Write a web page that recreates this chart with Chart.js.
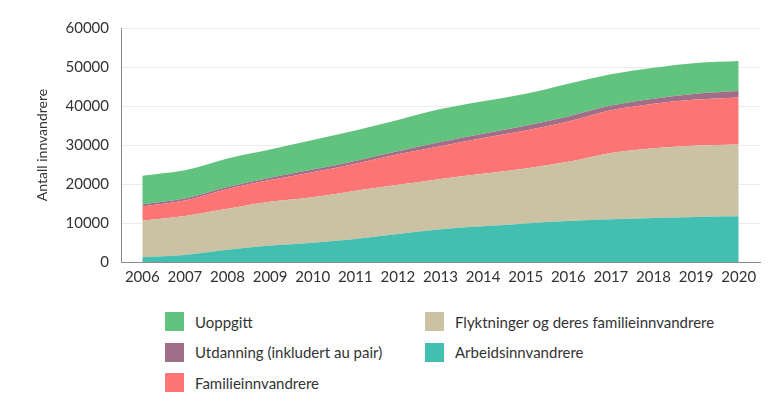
<!DOCTYPE html>
<html>
<head>
<meta charset="utf-8">
<script src="https://cdn.jsdelivr.net/npm/chart.js@4/dist/chart.umd.min.js"></script>
<style>
  body { margin: 0; background: #fff; font-family: Lato, sans-serif; }
  #wrap { position: relative; width: 779px; height: 403px; }
  #chart-box { position: absolute; left: 0; top: 0; width: 779px; height: 295px; }
  .leg { position: absolute; display: flex; align-items: center; height: 19px; font-size: 15px; color: #333; white-space: nowrap; }
  .leg span.box { display: inline-block; width: 19px; height: 19px; margin-right: 11px; }
</style>
</head>
<body>
<div id="wrap">
  <div id="chart-box"><canvas id="immigration-chart"></canvas></div>
  <div id="legend"></div>
</div>
<script>
const years = ["2006", "2007", "2008", "2009", "2010", "2011", "2012", "2013",
  "2014", "2015", "2016", "2017", "2018", "2019", "2020"];

// stacked from the bottom up
const arbeid = [1200, 1800, 3150, 4200, 4950, 5900, 7150, 8400, 9150, 9900, 10500, 10950, 11300, 11550, 11700];
const flyktninger = [9400, 10000, 10500, 11250, 11650, 12400, 12650, 12900, 13500, 14100, 15200, 17000, 17850, 18300, 18450];
const familie = [3650, 3950, 5050, 5550, 6400, 6900, 7800, 8400, 9150, 9750, 10350, 10950, 11450, 11800, 12050];
const utdanning = [520, 510, 510, 590, 690, 700, 770, 1050, 1100, 1200, 1280, 1200, 1280, 1500, 1630];
const uoppgitt = [7350, 7250, 7350, 7250, 7600, 7850, 8050, 8450, 8300, 8200, 8400, 8050, 7950, 7900, 7700];

const yTicks = [0, 10000, 20000, 30000, 40000, 50000, 60000];

const series = [
  { label: "Arbeidsinnvandrere", data: arbeid, color: "#42bfb1" },
  { label: "Flyktninger og deres familieinnvandrere", data: flyktninger, color: "#cbc1a3" },
  { label: "Familieinnvandrere", data: familie, color: "#fc7474" },
  { label: "Utdanning (inkludert au pair)", data: utdanning, color: "#a06e88" },
  { label: "Uoppgitt", data: uoppgitt, color: "#62c37f" }
];

Chart.defaults.font.family = "Lato, sans-serif";
Chart.defaults.color = "#333";

const chart = new Chart("immigration-chart", {
  type: "line",
  data: {
    labels: years,
    datasets: series.map((s, i) => ({
      label: s.label,
      data: s.data,
      backgroundColor: s.color,
      borderColor: s.color,
      borderWidth: 0,
      pointRadius: 0,
      fill: i === 0 ? "origin" : "-1",
      cubicInterpolationMode: "monotone"
    }))
  },
  options: {
    responsive: true,
    maintainAspectRatio: false,
    animation: false,
    layout: { padding: { left: 30, right: 19, top: 28, bottom: 0 } },
    plugins: {
      legend: { display: false },
      tooltip: { enabled: false }
    },
    scales: {
      x: {
        offset: true,
        grid: { display: false, drawTicks: false },
        border: { display: true, color: "#8a8a8a" },
        ticks: { padding: 6, font: { size: 15 }, color: "#333", maxRotation: 0 },
        afterFit: (scale) => { scale.height = 33; }
      },
      y: {
        stacked: true,
        min: 0,
        max: 60000,
        afterBuildTicks: (scale) => { scale.ticks = yTicks.map(v => ({ value: v })); },
        grid: { color: "#ececec", drawTicks: false },
        border: { display: true, color: "#8a8a8a" },
        ticks: { padding: 12, font: { size: 15 }, color: "#333", callback: (v) => String(v) },
        title: { display: true, text: "Antall innvandrere", font: { size: 14 }, color: "#333" },
        afterFit: (scale) => { scale.width = 91; }
      }
    }
  }
});

// legend: two columns, filled top to bottom, top series first
const legend = document.getElementById("legend");
chart.data.datasets.slice().reverse().forEach((ds, i) => {
  const col = Math.floor(i / 3), row = i % 3;
  const item = document.createElement("div");
  item.className = "leg";
  item.style.left = (165 + col * 260) + "px";
  item.style.top = (312 + row * 30.5) + "px";
  item.innerHTML = '<span class="box" style="background:' + ds.backgroundColor + '"></span>' + ds.label;
  legend.appendChild(item);
});
</script>
</body>
</html>
